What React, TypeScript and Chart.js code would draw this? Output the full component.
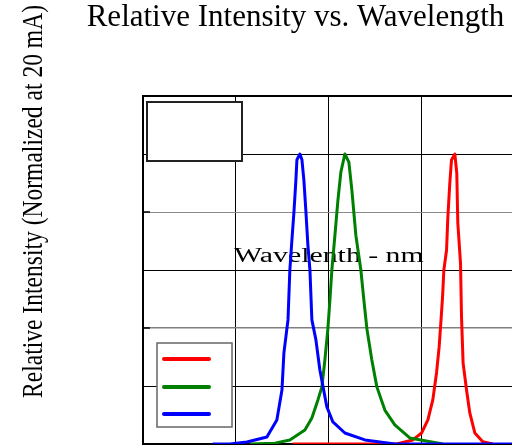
import React, { useEffect, useRef } from "react";
import { Chart, registerables } from "chart.js";

Chart.register(...registerables);

const SERIF = "'Liberation Serif', 'Times New Roman', serif";

const TITLE = "Relative Intensity vs. Wavelength";
const Y_TITLE = "Relative Intensity (Normalized at 20 mA)";
const X_TITLE = "Wavelenth - nm";

// x range (nm) and y range (relative intensity)
const X_MIN = 300;
const X_MAX = 782;
const X_STEP = 100;
const Y_MIN = 0;
const Y_MAX = 1.2;
const Y_STEP = 0.2;

// Blue LED spectrum
const blueNm = [375, 393.5, 411.8, 433.3, 444, 449.5, 451.6, 456, 458, 460.2, 462.4, 464.5, 465.6, 468.8, 471, 473.1, 475.3, 477.4, 479.6, 481.7, 486, 490.3, 497.8, 504.3, 517.2, 538.7, 571, 782];
const blueVal = [0, 0, 0.007, 0.024, 0.083, 0.186, 0.314, 0.428, 0.6, 0.703, 0.8, 0.91, 0.98, 1.0, 0.98, 0.91, 0.8, 0.686, 0.6, 0.428, 0.36, 0.255, 0.128, 0.076, 0.038, 0.014, 0, 0];

// Green LED spectrum
const greenNm = [415, 442, 458, 474.2, 481.7, 488.2, 492.5, 495.7, 498.9, 501.1, 503.2, 506.5, 509.7, 512.9, 517.2, 521.5, 524.7, 529, 534.4, 537.6, 540.9, 546.2, 551.6, 560.2, 570.9, 587, 622.6];
const greenVal = [0, 0.003, 0.014, 0.048, 0.09, 0.152, 0.197, 0.29, 0.397, 0.497, 0.6, 0.72, 0.84, 0.938, 1.0, 0.972, 0.876, 0.72, 0.6, 0.497, 0.397, 0.29, 0.197, 0.117, 0.066, 0.021, 0];

// Red LED spectrum
const redNm = [461, 572.8, 590.3, 599.7, 606.5, 611.8, 615.8, 618.6, 620.4, 622.3, 623.7, 626.6, 628, 630.1, 631.9, 635.5, 637.6, 638.7, 641.6, 642.7, 644.4, 648.1, 651.6, 657, 665.6, 676.3];
const redVal = [0, 0, 0.014, 0.038, 0.083, 0.152, 0.245, 0.334, 0.417, 0.507, 0.6, 0.669, 0.783, 0.9, 0.979, 1.0, 0.934, 0.762, 0.624, 0.438, 0.279, 0.186, 0.107, 0.038, 0.008, 0];

const seriesNames = ["Red", "Green", "Blue"];
const seriesColors = ["#ff0000", "#008000", "#0000ff"];

function pairs(xs: number[], ys: number[]) {
  return xs.map((x, i) => ({ x, y: ys[i] }));
}

const decor = {
  id: "decor",
  beforeDatasetsDraw(chart: any) {
    const { ctx, chartArea: a, scales } = chart;
    const ys = scales.y;
    const xs = scales.x;
    ctx.save();
    // short inner ticks on the grey grid lines
    ctx.strokeStyle = "#000";
    ctx.lineWidth = 1.5;
    [0.4, 0.8].forEach((v) => {
      const py = ys.getPixelForValue(v);
      ctx.beginPath();
      ctx.moveTo(a.left, py);
      ctx.lineTo(a.left + 7, py);
      ctx.stroke();
    });
    // misplaced x-axis title inside the plot
    ctx.fillStyle = "#000";
    ctx.font = `20px ${SERIF}`;
    ctx.textAlign = "center";
    ctx.textBaseline = "alphabetic";
    const cx = (a.left + xs.getPixelForValue(700)) / 2;
    ctx.translate(cx, a.top + 166);
    ctx.scale(1.49, 1);
    ctx.fillText(X_TITLE, 0, 0);
    ctx.restore();
  },
  afterDraw(chart: any) {
    const { ctx, chartArea: a } = chart;
    ctx.save();
    // y-axis title
    ctx.fillStyle = "#000";
    ctx.font = `29px ${SERIF}`;
    ctx.textAlign = "left";
    ctx.textBaseline = "alphabetic";
    ctx.translate(42, 398);
    ctx.rotate(-Math.PI / 2);
    ctx.scale(0.812, 1);
    ctx.fillText(Y_TITLE, 0, 0);
    ctx.restore();

    ctx.save();
    // empty box at top-left
    ctx.fillStyle = "#fff";
    ctx.strokeStyle = "#222";
    ctx.lineWidth = 2;
    ctx.fillRect(a.left + 4, a.top + 6, 95, 59);
    ctx.strokeRect(a.left + 4, a.top + 6, 95, 59);

    // legend box with line samples
    const bx = a.left + 14;
    const by = a.top + 247;
    ctx.fillStyle = "#fff";
    ctx.strokeStyle = "#666";
    ctx.lineWidth = 1.5;
    ctx.fillRect(bx, by, 75, 84);
    ctx.strokeRect(bx, by, 75, 84);
    const offsets = [16, 44, 71];
    ctx.lineWidth = 4;
    ctx.lineCap = "round";
    seriesColors.forEach((c, i) => {
      ctx.strokeStyle = c;
      ctx.beginPath();
      ctx.moveTo(bx + 7, by + offsets[i]);
      ctx.lineTo(bx + 52, by + offsets[i]);
      ctx.stroke();
    });
    ctx.restore();
  },
};

export default function App() {
  const ref = useRef<HTMLCanvasElement | null>(null);

  useEffect(() => {
    if (!ref.current) return;
    const gridColors = ["#000", "#000", "#808080", "#000", "#8a8a8a", "#000", "#000"];
    const gridWidths = [1, 1, 1.5, 1, 1, 1, 2];
    const chart = new Chart(ref.current, {
      type: "line",
      data: {
        datasets: [
          { label: seriesNames[2], data: pairs(blueNm, blueVal), borderColor: seriesColors[2] },
          { label: seriesNames[1], data: pairs(greenNm, greenVal), borderColor: seriesColors[1] },
          { label: seriesNames[0], data: pairs(redNm, redVal), borderColor: seriesColors[0] },
        ],
      },
      options: {
        animation: false,
        responsive: true,
        maintainAspectRatio: false,
        layout: { padding: { left: 0, right: 0, top: 0, bottom: 16 } },
        elements: {
          line: { borderWidth: 3, tension: 0, fill: false, borderJoinStyle: "round" },
          point: { radius: 0 },
        },
        plugins: {
          legend: { display: false },
          tooltip: { enabled: false },
          title: {
            display: true,
            text: TITLE,
            color: "#000",
            font: { family: SERIF, size: 31, weight: "normal", lineHeight: 1.05 },
            padding: { top: 2, bottom: 61.45 },
          },
        },
        scales: {
          x: {
            type: "linear",
            min: X_MIN,
            max: X_MAX,
            ticks: { display: false, stepSize: X_STEP },
            grid: { color: "#000", lineWidth: 1, drawTicks: false },
            border: { display: true, color: "#000", width: 2 },
          },
          y: {
            type: "linear",
            min: Y_MIN,
            max: Y_MAX,
            ticks: { display: false, stepSize: Y_STEP },
            grid: {
              color: (c: any) => gridColors[c.index] ?? "#000",
              lineWidth: (c: any) => gridWidths[c.index] ?? 1,
              drawTicks: false,
            },
            border: { display: true, color: "#000", width: 2 },
            afterFit: (s: any) => {
              s.width = 143;
            },
          },
        },
      },
      plugins: [decor],
    } as any);
    return () => chart.destroy();
  }, []);

  return (
    <div style={{ position: "fixed", left: 0, top: 0, width: 512, height: 446, overflow: "hidden", background: "#fff" }}>
      <div style={{ position: "relative", width: 591, height: 460 }}>
        <canvas ref={ref} />
      </div>
    </div>
  );
}
